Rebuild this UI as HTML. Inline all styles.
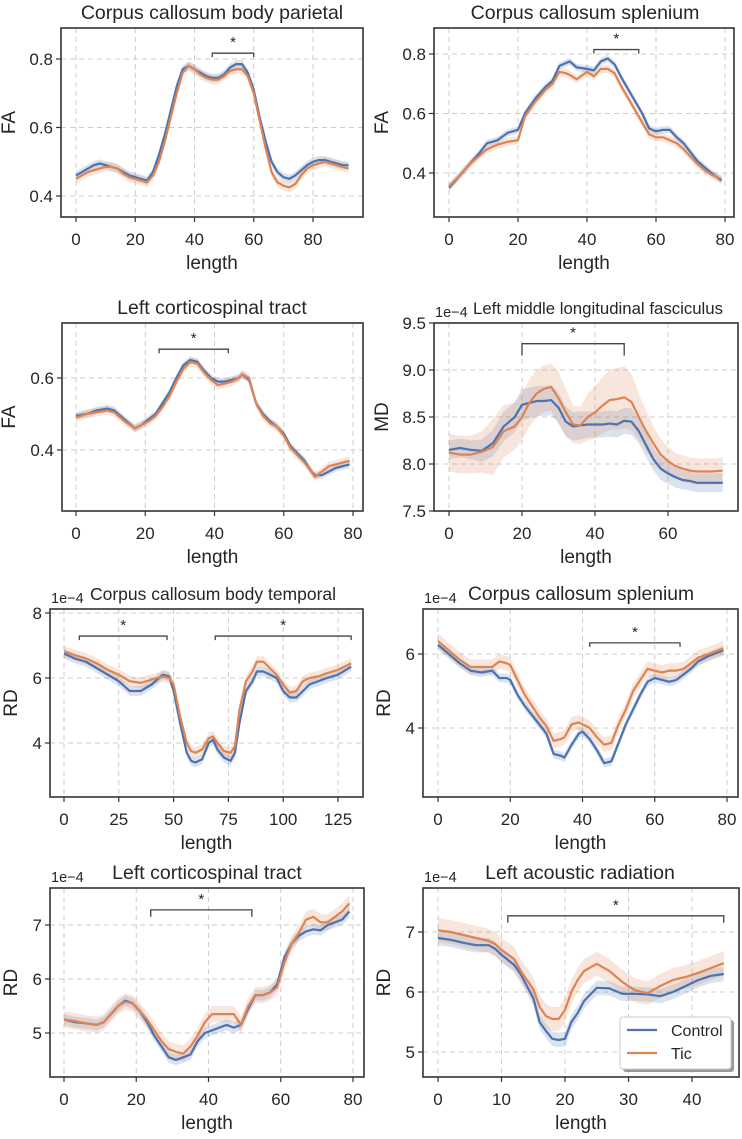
<!DOCTYPE html>
<html><head><meta charset="utf-8"><style>
html,body{margin:0;padding:0;background:#fff;}
svg{display:block;font-family:"Liberation Sans",sans-serif;}
</style></head><body>
<svg id="fig" width="742" height="1139" viewBox="0 0 742 1139" xmlns="http://www.w3.org/2000/svg"></svg>
<script>
// ---- data ----
const p1X=[0,2,4,6,8,10,12,14,16,18,20,22,24,26,28,30,32,34,36,38,40,42,44,46,48,50,52,54,56,58,60,62,64,66,68,70,72,74,76,78,80,82,84,86,88,90,92];
const p1C=[.46,.47,.48,.49,.495,.49,.485,.48,.47,.46,.455,.45,.445,.47,.52,.58,.65,.72,.77,.78,.77,.76,.75,.745,.745,.755,.775,.785,.785,.76,.71,.63,.56,.50,.47,.455,.45,.46,.475,.49,.50,.505,.505,.50,.495,.49,.49];
const p1T=[.45,.46,.47,.475,.48,.485,.485,.48,.465,.455,.45,.445,.44,.46,.50,.56,.63,.70,.76,.78,.77,.755,.745,.74,.74,.75,.765,.77,.77,.75,.70,.62,.54,.47,.44,.43,.425,.435,.46,.48,.49,.495,.50,.495,.49,.485,.48];
const p2X=[0,3,6,9,11,14,17,20,22,25,28,30,32,34,35,37,40,42,44,46,48,50,52,54,56,58,60,62,64,66,68,70,72,74,76,79];
const p2C=[.35,.39,.43,.47,.50,.51,.535,.545,.60,.65,.69,.71,.76,.77,.775,.755,.75,.745,.775,.785,.765,.72,.68,.64,.60,.55,.54,.545,.545,.52,.50,.47,.44,.42,.40,.375];
const p2T=[.355,.39,.43,.46,.48,.495,.505,.51,.59,.64,.68,.70,.74,.735,.73,.715,.74,.725,.75,.75,.735,.69,.65,.61,.57,.53,.52,.52,.51,.50,.48,.455,.43,.41,.395,.38];
const p3X=[0,3,6,9,11,14,17,19,21,23,25,27,29,31,33,35,37,39,41,43,45,47,48,50,52,54,56,58,60,62,64,66,68,69,71,73,75,77,79];
const p3C=[.495,.50,.51,.515,.51,.485,.46,.47,.485,.50,.53,.56,.60,.635,.65,.645,.62,.60,.59,.59,.595,.60,.61,.595,.53,.50,.48,.465,.445,.41,.39,.37,.34,.33,.33,.34,.35,.355,.36];
const p3T=[.49,.50,.505,.51,.505,.48,.46,.47,.48,.495,.52,.55,.59,.625,.645,.64,.615,.595,.58,.585,.59,.60,.61,.60,.53,.495,.475,.465,.44,.405,.385,.365,.34,.325,.34,.355,.36,.365,.37];
const p4X=[0,3,6,9,12,15,18,20,22,24,26,28,30,32,34,36,38,40,42,44,46,48,50,52,54,56,58,60,62,64,66,68,70,72,75];
const p4C=[8.15,8.17,8.15,8.14,8.22,8.40,8.50,8.63,8.65,8.67,8.67,8.68,8.60,8.45,8.40,8.41,8.42,8.42,8.42,8.43,8.42,8.46,8.45,8.35,8.20,8.05,7.95,7.90,7.86,7.83,7.82,7.80,7.80,7.80,7.80];
const p4T=[8.12,8.10,8.10,8.13,8.18,8.35,8.40,8.50,8.65,8.75,8.80,8.82,8.70,8.55,8.42,8.41,8.50,8.55,8.62,8.68,8.69,8.71,8.66,8.50,8.35,8.22,8.10,8.03,7.98,7.95,7.93,7.92,7.92,7.92,7.93];
const p4CE=[.1,.1,.1,.12,.14,.16,.16,.17,.16,.16,.16,.16,.16,.16,.15,.15,.14,.14,.14,.14,.14,.14,.14,.13,.13,.12,.12,.11,.11,.1,.1,.1,.1,.1,.1];
const p4TE=[.2,.2,.2,.22,.3,.28,.25,.25,.25,.25,.25,.25,.28,.25,.2,.2,.25,.28,.3,.32,.33,.33,.3,.25,.22,.18,.17,.15,.14,.14,.14,.14,.14,.14,.14];
const p5X=[0,5,10,15,20,25,30,35,40,45,48,50,53,56,58,60,63,66,68,70,73,76,78,80,83,86,88,91,94,97,100,103,106,109,112,116,120,125,131];
const p5C=[6.75,6.6,6.5,6.3,6.1,5.9,5.6,5.6,5.8,6.1,6.05,5.6,4.6,3.7,3.45,3.4,3.5,4.0,4.1,3.8,3.55,3.45,3.7,4.6,5.6,5.9,6.2,6.2,6.1,6.0,5.6,5.4,5.4,5.6,5.8,5.9,6.0,6.1,6.35];
const p5T=[6.82,6.7,6.6,6.45,6.25,6.1,5.9,5.85,5.95,6.05,6.0,5.8,4.8,4.0,3.75,3.7,3.8,4.15,4.2,4.0,3.75,3.7,3.9,5.0,5.9,6.2,6.5,6.5,6.3,6.1,5.8,5.55,5.6,5.9,6.0,6.05,6.15,6.25,6.45];
const p6X=[0,3,6,9,12,15,17,19,20,22,24,26,28,30,32,34,35,37,39,40,42,44,46,48,50,52,54,56,58,60,62,64,66,68,70,72,75,79];
const p6C=[6.25,6.0,5.75,5.55,5.5,5.55,5.35,5.35,5.3,4.9,4.6,4.35,4.1,3.85,3.3,3.25,3.2,3.55,3.85,3.9,3.7,3.4,3.05,3.1,3.6,4.1,4.5,4.9,5.25,5.35,5.3,5.25,5.3,5.45,5.6,5.8,5.95,6.1];
const p6T=[6.35,6.1,5.85,5.65,5.65,5.65,5.8,5.75,5.7,5.3,4.9,4.6,4.3,4.05,3.65,3.7,3.75,4.1,4.15,4.1,4.0,3.75,3.55,3.6,4.1,4.5,5.0,5.3,5.6,5.55,5.5,5.55,5.55,5.6,5.75,5.9,6.0,6.15];
const p7X=[0,3,6,9,11,13,15,17,19,21,23,25,27,29,31,33,35,37,39,41,43,45,47,49,51,53,55,57,59,61,63,65,67,69,71,73,75,77,79];
const p7C=[5.25,5.2,5.18,5.15,5.2,5.35,5.5,5.6,5.55,5.4,5.2,4.95,4.75,4.55,4.5,4.55,4.6,4.85,5.0,5.05,5.1,5.15,5.1,5.15,5.45,5.7,5.7,5.75,5.9,6.4,6.65,6.8,6.88,6.92,6.9,7.0,7.05,7.1,7.25];
const p7T=[5.25,5.22,5.18,5.15,5.2,5.35,5.5,5.58,5.55,5.4,5.25,5.05,4.85,4.7,4.65,4.62,4.75,4.95,5.2,5.35,5.35,5.35,5.35,5.15,5.5,5.7,5.7,5.75,5.85,6.3,6.65,6.85,7.1,7.15,7.05,7.05,7.15,7.25,7.4];
const p8X=[0,2,4,6,8,9,10,12,13,14,15,16,17,18,19,20,21,22,23,25,27,29,31,33,35,37,39,41,43,45];
const p8C=[6.9,6.87,6.82,6.78,6.78,6.72,6.62,6.45,6.3,6.1,5.9,5.5,5.35,5.22,5.2,5.22,5.5,5.65,5.85,6.07,6.06,5.97,5.97,5.96,5.93,6.0,6.1,6.2,6.27,6.3];
const p8T=[7.03,7.0,6.95,6.9,6.85,6.8,6.7,6.55,6.35,6.2,6.05,5.75,5.6,5.55,5.55,5.7,6.0,6.2,6.35,6.47,6.35,6.17,6.03,5.98,6.1,6.2,6.25,6.32,6.4,6.48];

const titles=["Corpus callosum body parietal","Corpus callosum splenium","Left corticospinal tract","Left middle longitudinal fasciculus","Corpus callosum body temporal","Corpus callosum splenium","Left corticospinal tract","Left acoustic radiation"];
const yLabels=["FA","FA","FA","MD","RD","RD","RD","RD"];
const xTicks=[[0,20,40,60,80],[0,20,40,60,80],[0,20,40,60,80],[0,20,40,60],[0,25,50,75,100,125],[0,20,40,60,80],[0,20,40,60,80],[0,10,20,30,40]];
const yTicks=[[0.4,0.6,0.8],[0.4,0.6,0.8],[0.4,0.6],[7.5,8.0,8.5,9.0,9.5],[4,6,8],[4,6],[5,6,7],[5,6,7]];
const yTickLabels=[["0.4","0.6","0.8"],["0.4","0.6","0.8"],["0.4","0.6"],["7.5","8.0","8.5","9.0","9.5"],["4","6","8"],["4","6"],["5","6","7"],["5","6","7"]];
const sigRanges=[[[46,60]],[[42,55]],[[24,44]],[[20,48]],[[7,47],[69,131]],[[42,67]],[[24,52]],[[11,45]]];
const sigLevels=[[0.817],[0.815],[0.68],[9.28],[7.29,7.29],[6.3],[7.28],[7.27]];

// ---- layout (pixel geometry, not data) ----
const L=[
 {box:[61,28,363,217],xr:[76,313,0,80],yr:[196,59,0.4,0.8],drop:4,yl:8,tc:212,ts:19.5},
 {box:[434,28,734,217],xr:[449,725,0,80],yr:[173,54,0.4,0.8],drop:4,yl:381,tc:585,ts:19.5},
 {box:[62,323,363,511],xr:[76,353,0,80],yr:[450,378,0.4,0.6],drop:4,yl:8,tc:212,ts:19.5},
 {box:[434,323,738,511],xr:[449,668,0,60],yr:[511,323,7.5,9.5],drop:12,exp:true,yl:381,tc:598,ts:16.8},
 {box:[50,609,363,797],xr:[64,338,0,125],yr:[743,613,4,8],drop:4,exp:true,yl:10,tc:213,ts:17.5},
 {box:[423,609,738,797],xr:[438,727,0,80],yr:[728,654,4,6],drop:4,exp:true,yl:383,tc:581,ts:19.3},
 {box:[50,888,364,1077],xr:[64,353,0,80],yr:[1033,925,5,7],drop:7,exp:true,yl:10,tc:207,ts:19.5},
 {box:[423,888,739,1077],xr:[438,692,0,40],yr:[1052,932,5,7],drop:7,exp:true,legend:true,yl:383,tc:580,ts:19.5}
];
const series=[[p1X,p1C,p1T,null,null,.012,.014],[p2X,p2C,p2T,null,null,.012,.014],[p3X,p3C,p3T,null,null,.01,.012],
 [p4X,p4C,p4T,p4CE,p4TE,0,0],[p5X,p5C,p5T,null,null,.15,.17],[p6X,p6C,p6T,null,null,.12,.2],[p7X,p7C,p7T,null,null,.1,.15],[p8X,p8C,p8T,null,null,.12,.2]];

const NS="http://www.w3.org/2000/svg";
const svg=document.getElementById('fig');
function mk(tag,attrs,parent){const e=document.createElementNS(NS,tag);for(const k in attrs)e.setAttribute(k,attrs[k]);(parent||svg).appendChild(e);return e;}
const BLUE="#4c72b0",ORANGE="#dd8452",TXT="#262626";

L.forEach((lay,i)=>{
  const g=mk('g',{});
  
  
  const [x0,y0,x1,y1]=lay.box;
  const sx=v=>lay.xr[0]+(v-lay.xr[2])*(lay.xr[1]-lay.xr[0])/(lay.xr[3]-lay.xr[2]);
  const sy=v=>lay.yr[0]+(v-lay.yr[2])*(lay.yr[1]-lay.yr[0])/(lay.yr[3]-lay.yr[2]);
  const cx=(x0+x1)/2;
  xTicks[i].forEach(t=>{const X=sx(t);
    const gl=mk('line',{x1:X,x2:X,y1:y0,y2:y1,stroke:"#cccccc","stroke-width":1,"stroke-dasharray":"5,4"},g);
    
    const tk=mk('line',{x1:X,x2:X,y1:y1,y2:y1+5,stroke:"#333","stroke-width":1.2},g);
    
    const tl=mk('text',{x:X,y:y1+28,"text-anchor":"middle","font-size":17,fill:TXT},g);tl.textContent=t;
    });
  yTicks[i].forEach((t,j)=>{const Y=sy(t);
    const gl=mk('line',{x1:x0,x2:x1,y1:Y,y2:Y,stroke:"#cccccc","stroke-width":1,"stroke-dasharray":"5,4"},g);
    
    const tk=mk('line',{x1:x0-5,x2:x0,y1:Y,y2:Y,stroke:"#333","stroke-width":1.2},g);
    
    const tl=mk('text',{x:x0-8,y:Y+6,"text-anchor":"end","font-size":17,fill:TXT},g);tl.textContent=yTickLabels[i][j];
    });
  const [xs,c,t,ce,te,cw,tw]=series[i];
  const clip=mk('clipPath',{id:'clip'+i},g);mk('rect',{x:x0,y:y0,width:x1-x0,height:y1-y0},clip);
  [[c,ce,cw,BLUE,'control'],[t,te,tw,ORANGE,'tic']].forEach(([ys,es,w,col,nm])=>{
    const up=xs.map((x,k)=>sx(x)+','+sy(ys[k]+(es?es[k]:w))).join(' ');
    const dn=xs.map((x,k)=>sx(x)+','+sy(ys[k]-(es?es[k]:w))).reverse().join(' ');
    const b=mk('polygon',{points:up+' '+dn,fill:col,"fill-opacity":0.2,"clip-path":'url(#clip'+i+')'},g);
    
  });
  [[c,BLUE,'control'],[t,ORANGE,'tic']].forEach(([ys,col,nm])=>{
    const l=mk('polyline',{points:xs.map((x,k)=>sx(x)+','+sy(ys[k])).join(' '),fill:"none",stroke:col,"stroke-width":2.2,"stroke-linejoin":"round"},g);
    
  });
  sigRanges[i].forEach((r,j)=>{const Y=sy(sigLevels[i][j]);const a=sx(r[0]),bb=sx(r[1]);
    const p=mk('path',{d:`M${a},${Y+lay.drop}V${Y}H${bb}V${Y+lay.drop}`,fill:"none",stroke:"#444","stroke-width":1.3},g);
    
    const s=mk('text',{x:(a+bb)/2,y:Y-6,"text-anchor":"middle","font-size":15,fill:TXT},g);s.textContent='*';
    });
  const f=mk('rect',{x:x0,y:y0,width:x1-x0,height:y1-y0,fill:"none",stroke:"#333","stroke-width":1.6},g);
  
  const ti=mk('text',{x:lay.tc,y:y0-9,"text-anchor":"middle","font-size":lay.ts,fill:TXT},g);ti.textContent=titles[i];
  
  const xl=mk('text',{x:cx,y:y1+52,"text-anchor":"middle","font-size":19,fill:TXT},g);xl.textContent='length';
  
  const ylx=lay.yl+7, ym=(y0+y1)/2;
  const yl=mk('text',{x:ylx,y:ym,"text-anchor":"middle","font-size":19,fill:TXT,transform:`rotate(-90 ${ylx} ${ym})`},g);yl.textContent=yLabels[i];
  
  if(lay.exp){const e=mk('text',{x:x0+1,y:y0-6,"font-size":14.5,fill:TXT},g);e.textContent='1e\u22124';
    }
  if(lay.legend){
    const lg=mk('g',{},g);
    mk('rect',{x:623,y:1020,width:111,height:52,fill:"#999",rx:3},lg);
    mk('rect',{x:620,y:1017,width:111,height:52,fill:"#fff",stroke:"#ccc",rx:3},lg);
    [['Control',BLUE,1030],['Tic',ORANGE,1053]].forEach(([n,col,yy])=>{
      const e=mk('g',{},lg);
      mk('line',{x1:627,x2:657,y1:yy,y2:yy,stroke:col,"stroke-width":2.2},e);
      const tx=mk('text',{x:671,y:yy+6,"font-size":16,fill:TXT},e);tx.textContent=n;});
  }
});
</script>
</body></html>
